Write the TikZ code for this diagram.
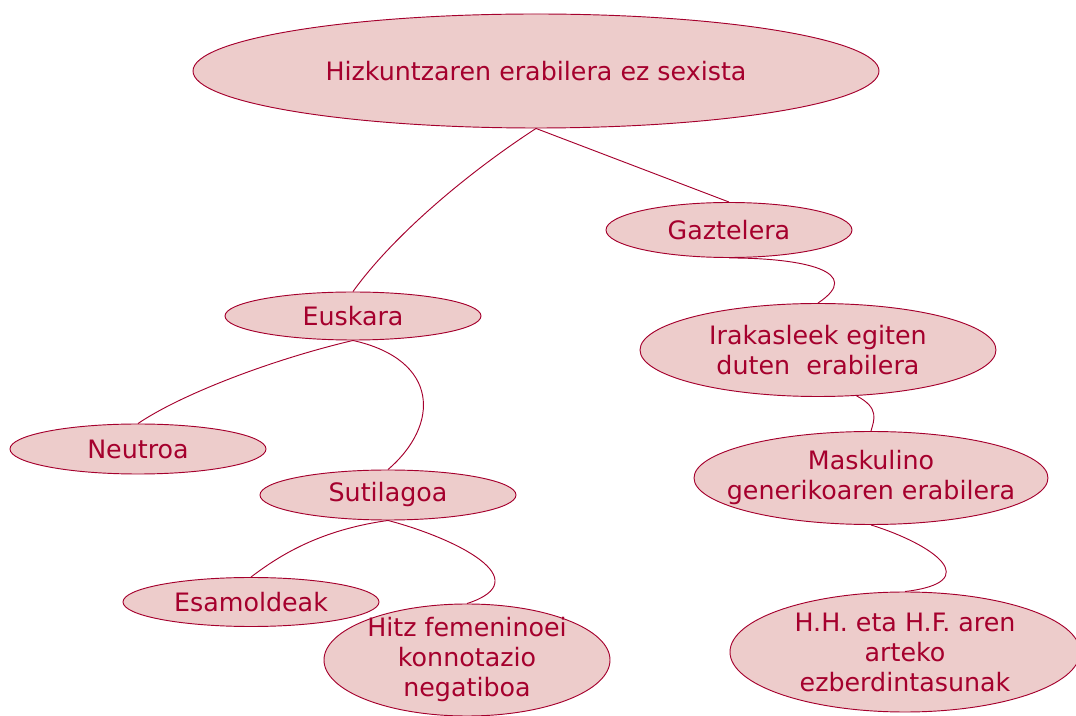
\documentclass[tikz,border=0pt]{standalone}
\usepackage{fontspec}
\setmainfont{DejaVu Sans}
\usetikzlibrary{shapes.geometric}
\definecolor{wine}{RGB}{165,0,45}
\definecolor{rosefill}{RGB}{237,204,203}
\begin{document}
\begin{tikzpicture}[x=0.75pt, y=-0.75pt,
    bubble/.style={ellipse, draw=wine, fill=rosefill, line width=0.7pt, inner sep=0pt},
    lbl/.style={text=wine, align=center, inner sep=0pt, font=\fontsize{19}{22.5}\selectfont},
    link/.style={draw=wine, line width=0.7pt}]
    \useasboundingbox (0,0) rectangle (1076,716);

    % Root
    \node[bubble, minimum width=514.5pt, minimum height=85.5pt,
        label={[lbl]center:Hizkuntzaren erabilera ez sexista}] (root) at (536,71) {};

    % Right branch
    \node[bubble, minimum width=184.5pt, minimum height=41.25pt,
        label={[lbl]center:Gaztelera}] (gaztelera) at (729,230) {};
    \node[bubble, minimum width=267pt, minimum height=69.75pt,
        label={[lbl]center:{Irakasleek egiten\\duten\ \ erabilera}}] (irakasle) at (818,350) {};
    \node[bubble, minimum width=265.5pt, minimum height=69.75pt,
        label={[lbl]center:{Maskulino\\generikoaren erabilera}}] (maskulino) at (871,478) {};
    \node[bubble, minimum width=262.5pt, minimum height=90pt,
        label={[lbl]center:{H.H. eta H.F. aren\\arteko\\ezberdintasunak}}] (hhhf) at (905,652) {};

    % Left branch
    \node[bubble, minimum width=192pt, minimum height=36pt,
        label={[lbl]center:Euskara}] (euskara) at (353,316) {};
    \node[bubble, minimum width=192pt, minimum height=37.5pt,
        label={[lbl]center:Neutroa}] (neutroa) at (138,449) {};
    \node[bubble, minimum width=192pt, minimum height=37.5pt,
        label={[lbl]center:Sutilagoa}] (sutil) at (388,495) {};
    \node[bubble, minimum width=192pt, minimum height=36.75pt,
        label={[lbl]center:Esamoldeak}] (esamol) at (251,602) {};
    \node[bubble, minimum width=214.5pt, minimum height=84pt,
        label={[lbl]center:{Hitz femeninoei\\konnotazio\\negatiboa}}] (hitz) at (467,660) {};

    % Connectors
    \draw[link] (root.south) .. controls (460,178) and (390,240) .. (euskara.north);
    \draw[link] (root.south) -- (gaztelera.north);
    \draw[link] (gaztelera.south) .. controls (805,258) and (865,272) .. (irakasle.north);
    \draw[link] (irakasle.-50) .. controls (880,408) and (874,420) .. (maskulino.north);
    \draw[link] (maskulino.south) .. controls (935,545) and (985,582) .. (hhhf.north);
    \draw[link] (euskara.south) .. controls (270,360) and (180,395) .. (neutroa.north);
    \draw[link] (euskara.south) .. controls (440,360) and (440,425) .. (sutil.north);
    \draw[link] (sutil.south) .. controls (320,530) and (280,555) .. (esamol.north);
    \draw[link] (sutil.south) .. controls (455,538) and (540,580) .. (hitz.north);
\end{tikzpicture}
\end{document}
